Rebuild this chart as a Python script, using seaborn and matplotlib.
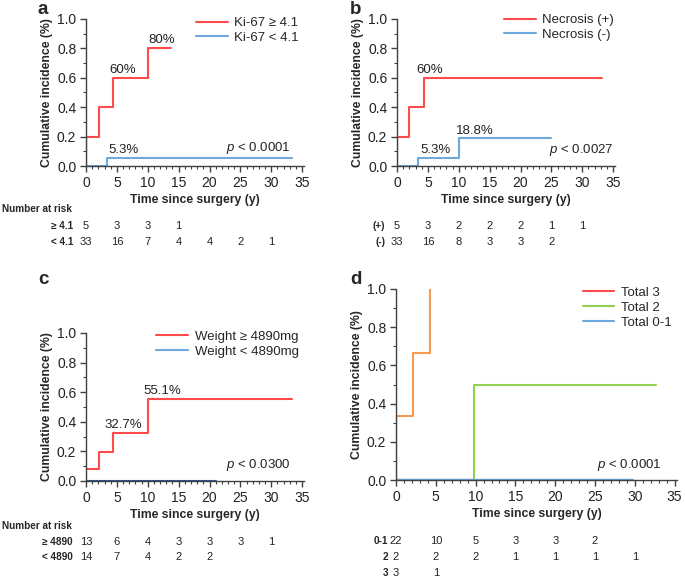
import numpy as np
import pandas as pd
import matplotlib
matplotlib.use('Agg')
import matplotlib.pyplot as plt
import matplotlib.transforms as mtransforms
from matplotlib.lines import Line2D
from matplotlib.ticker import MultipleLocator
import seaborn as sns

# ---- dados (tempos de passo e incidência acumulada) ----
a_hi_t = [0, 0, 2.1, 4.3, 10.0, 13.8]
a_hi_y = [0, 0.2, 0.4, 0.6, 0.8, 0.8]
a_lo_t = [0, 3.4, 33.4]
a_lo_y = [0, 0.053, 0.053]

b_pos_t = [0, 0, 2.0, 4.3, 33.2]
b_pos_y = [0, 0.2, 0.4, 0.6, 0.6]
b_neg_t = [0, 3.4, 10.1, 25.0]
b_neg_y = [0, 0.053, 0.188, 0.188]

c_hi_t = [0, 0, 2.1, 4.4, 10.0, 33.3]
c_hi_y = [0, 0.08, 0.196, 0.327, 0.551, 0.551]
c_lo_t = [0, 21.0]
c_lo_y = [0, 0]

d_t3_t = [0, 0, 2.1, 4.3]
d_t3_y = [0, 0.333, 0.667, 1.0]
d_t2_t = [0, 9.8, 32.6]
d_t2_y = [0, 0.5, 0.5]
d_t01_t = [0, 29.7]
d_t01_y = [0, 0]

# número em risco (em 0, 5, 10, ...)
risk_times = [0, 5, 10, 15, 20, 25, 30]
a_risk = {'≥ 4.1': [5, 3, 3, 1], '< 4.1': [33, 16, 7, 4, 4, 2, 1]}
b_risk = {'(+)': [5, 3, 2, 2, 2, 1, 1], '(-)': [33, 16, 8, 3, 3, 2]}
c_risk = {'≥ 4890': [13, 6, 4, 3, 3, 3, 1], '< 4890': [14, 7, 4, 2, 2]}
d_risk = {'0-1': [22, 10, 5, 3, 3, 2], '2': [2, 2, 2, 1, 1, 1, 1], '3': [3, 1]}

RED = '#FF4B4B'
BLUE = '#6FA8DC'
GREEN = '#92D050'
ORANGE = '#F79A50'
GREY = '#404040'

sns.set_theme(style='ticks')
plt.rcParams['font.family'] = ['Liberation Sans', 'DejaVu Sans']
plt.rcParams['mathtext.fontset'] = 'custom'
plt.rcParams['mathtext.it'] = 'Liberation Sans:italic'
plt.rcParams['mathtext.rm'] = 'Liberation Sans'

W, H = 685, 578
fig = plt.figure(figsize=(W / 100, H / 100), dpi=100)


def eixo_px(left, top, right, bottom):
    return fig.add_axes([left / W, 1 - bottom / H, (right - left) / W, (bottom - top) / H])


def curva(ax, t, y, cor, lw=1.5, inicio=None):
    df = pd.DataFrame({'t': t, 'y': y})
    sns.lineplot(data=df, x='t', y='y', ax=ax, color=cor, lw=lw, drawstyle='steps-post',
                 estimator=None, sort=False, legend=False)
    if inicio is not None:
        # primeiro salto em t=0 aparece mais escuro no original
        ax.plot(t[:2], y[:2], color=inicio, lw=lw)


def estilo(ax):
    ax.set_xlim(0, 35.3)
    ax.set_ylim(0, 1.0)
    ax.xaxis.set_major_locator(MultipleLocator(5))
    ax.xaxis.set_minor_locator(MultipleLocator(1))
    ax.yaxis.set_major_locator(MultipleLocator(0.2))
    ax.yaxis.set_minor_locator(MultipleLocator(0.1))
    ax.yaxis.set_major_formatter(plt.FuncFormatter(lambda v, p: f'{v:.1f}'))
    sns.despine(ax=ax)
    for s in ('left', 'bottom'):
        ax.spines[s].set_color(GREY)
        ax.spines[s].set_linewidth(1.0)
    ax.tick_params(which='major', length=4, width=1, color=GREY, labelsize=10, pad=3, labelcolor='#222222')
    ax.tick_params(which='minor', length=2.5, width=0.8, color=GREY)
    ax.set_xlabel('Time since surgery (y)', fontsize=8.8, fontweight='bold', labelpad=3)
    ax.set_ylabel('Cumulative incidence (%)', fontsize=8.8, fontweight='bold', labelpad=3)


def tabela_risco(ax, risco, y_rotulos, x_rotulo_px, titulo_y=None):
    trans = mtransforms.blended_transform_factory(ax.transData, fig.transFigure)
    if titulo_y is not None:
        fig.text(2 / W, 1 - titulo_y / H, 'Number at risk', fontsize=7.2, fontweight='bold',
                 va='center', ha='left')
    for (nome, vals), yy in zip(risco.items(), y_rotulos):
        fig.text(x_rotulo_px / W, 1 - yy / H, nome, fontsize=7.2, fontweight='bold', va='center', ha='right')
        for tt, v in zip(risk_times, vals):
            ax.text(tt, 1 - yy / H, str(v), transform=trans, fontsize=8, ha='center', va='center',
                    color='#222222', clip_on=False)


def legenda(ax, cores, labels, anchor):
    handles = [Line2D([], [], color=c, lw=1.5) for c in cores]
    ax.legend(handles, labels, loc='upper right', bbox_to_anchor=anchor, frameon=False, fontsize=9.5,
              handlelength=2.4, handletextpad=0.5, labelspacing=0.2, borderaxespad=0)


ptxt = dict(fontsize=9.5, color='#222222')

# ---- painel a ----
ax = eixo_px(86, 19, 304, 166)
curva(ax, a_hi_t, a_hi_y, RED, inicio='#C00000')
curva(ax, a_lo_t, a_lo_y, BLUE)
estilo(ax)
legenda(ax, [RED, BLUE], ['Ki-67 ≥ 4.1', 'Ki-67 < 4.1'], (1.0, 1.05))
ax.text(12.3, 0.815, '80%', ha='center', va='bottom', **ptxt)
ax.text(6.0, 0.615, '60%', ha='center', va='bottom', **ptxt)
ax.text(6.0, 0.068, '5.3%', ha='center', va='bottom', **ptxt)
ax.text(33.2, 0.07, '$p$ < 0.0001', ha='right', va='bottom', **ptxt)
tabela_risco(ax, a_risk, [226, 242], 73, titulo_y=209)
fig.text(38 / W, 1 - 10 / H, 'a', fontsize=13.5, fontweight='bold', va='center')

# ---- painel b ----
ax = eixo_px(397, 19, 615, 166)
curva(ax, b_pos_t, b_pos_y, RED, inicio='#C00000')
curva(ax, b_neg_t, b_neg_y, BLUE)
estilo(ax)
legenda(ax, [RED, BLUE], ['Necrosis (+)', 'Necrosis (-)'], (1.02, 1.07))
ax.text(5.3, 0.615, '60%', ha='center', va='bottom', **ptxt)
ax.text(12.6, 0.2, '18.8%', ha='center', va='bottom', **ptxt)
ax.text(6.2, 0.068, '5.3%', ha='center', va='bottom', **ptxt)
ax.text(35.0, 0.055, '$p$ < 0.0027', ha='right', va='bottom', **ptxt)
tabela_risco(ax, b_risk, [226, 242], 385)
fig.text(350 / W, 1 - 10 / H, 'b', fontsize=13.5, fontweight='bold', va='center')

# ---- painel c ----
ax = eixo_px(86, 333, 304, 481)
curva(ax, c_hi_t, c_hi_y, RED)
curva(ax, c_lo_t, c_lo_y, '#2F5597')
estilo(ax)
legenda(ax, [RED, BLUE], ['Weight ≥ 4890mg', 'Weight < 4890mg'], (1.0, 1.05))
ax.text(12.4, 0.565, '55.1%', ha='center', va='bottom', **ptxt)
ax.text(6.0, 0.34, '32.7%', ha='center', va='bottom', **ptxt)
ax.text(33.2, 0.055, '$p$ < 0.0300', ha='right', va='bottom', **ptxt)
tabela_risco(ax, c_risk, [542, 557], 73, titulo_y=526)
fig.text(38 / W, 1 - 279 / H, 'c', fontsize=13.5, fontweight='bold', va='center')

# ---- painel d ----
ax = eixo_px(396, 289, 677, 480)
curva(ax, d_t3_t, d_t3_y, ORANGE, inicio='#8B2500')
curva(ax, d_t2_t, d_t2_y, GREEN)
curva(ax, d_t01_t, d_t01_y, BLUE, lw=2.5)
estilo(ax)
legenda(ax, [RED, GREEN, BLUE], ['Total 3', 'Total 2', 'Total 0-1'], (1.0, 1.04))
ax.text(33.4, 0.035, '$p$ < 0.0001', ha='right', va='bottom', **ptxt)
tabela_risco(ax, d_risk, [541, 557, 573], 388)
fig.text(350 / W, 1 - 279 / H, 'd', fontsize=13.5, fontweight='bold', va='center')

fig.savefig('out.png', dpi=100)
